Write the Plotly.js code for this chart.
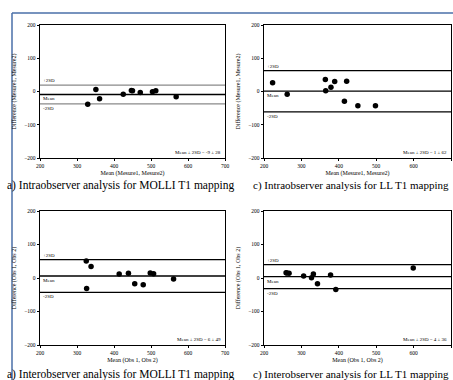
<!DOCTYPE html>
<html><head><meta charset="utf-8">
<script src="https://cdn.plot.ly/plotly-3.0.1.min.js"></script>
<style>html,body{margin:0;padding:0;background:#fff}#c{width:453px;height:380px}</style>
</head><body><div id="c"></div>
<script>
// Panel a) Intraobserver MOLLI
const p1x = [329, 351, 361, 425, 447, 450, 471, 504, 513, 568];
const p1y = [-38, 6, -22, -8, 3, 2, -3, -1, 2, -16];
const p1stats = {mean: -9, sd2: 28};
// Panel c) Intraobserver LL
const p2x = [223, 262, 364, 365, 379, 389, 421, 415, 451, 498];
const p2y = [26, -8, 36, 2, 13, 30, 31, -29, -43, -43];
const p2stats = {mean: 1, sd2: 62};
// Panel a) Interobserver MOLLI
const p3x = [325, 338, 326, 414, 439, 456, 479, 498, 507, 561];
const p3y = [51, 34, -31, 12, 14, -17, -20, 15, 13, -3];
const p3stats = {mean: 6, sd2: 49};
// Panel c) Interobserver LL
const p4x = [259, 261, 267, 306, 327, 332, 343, 378, 392, 599];
const p4y = [16, 15, 14, 6, 1, 12, -17, 9, -34, 30];
const p4stats = {mean: 4, sd2: 36};

const xTitles = ["Mean (Mesure1, Mesure2)", "Mean (Mesure1, Mesure2)", "Mean (Obs 1, Obs 2)", "Mean (Obs 1, Obs 2)"];
const yTitles = ["Difference (Mesure1, Mesure2)", "Difference (Mesure1, Mesure2)", "Difference (Obs 1, Obs 2)", "Difference (Obs 1, Obs 2)"];
const captions = ["a) Intraobserver analysis for MOLLI T1 mapping", "c) Intraobserver analysis for LL T1 mapping",
                  "a) Interobserver analysis for MOLLI T1 mapping", "c) Interobserver analysis for LL T1 mapping"];
const xRange = [200, 700];
const yRange = [-200, 200];
const xTicks = [200, 300, 400, 500, 600, 700];
const yTicks = [-200, -100, 0, 100, 200];

const panels = [
  {x: p1x, y: p1y, s: p1stats, limColor: '#8a8a8a'},
  {x: p2x, y: p2y, s: p2stats, limColor: '#000'},
  {x: p3x, y: p3y, s: p3stats, limColor: '#000'},
  {x: p4x, y: p4y, s: p4stats, limColor: '#000'}
];
const W = 453, H = 380;
// plot boxes in pixels [left, right, top, bottom]
const boxes = [[40, 225, 25, 158], [264, 451, 25, 158], [40, 225, 211, 345], [264, 451, 211, 345]];

const serif = 'Liberation Serif, Times New Roman, serif';
const traces = [], annotations = [], shapes = [];
const layout = {
  width: W, height: H, margin: {l: 0, r: 0, t: 0, b: 0},
  paper_bgcolor: '#fff', plot_bgcolor: '#fff', showlegend: false,
  font: {family: serif, color: '#000'}
};

panels.forEach((p, i) => {
  const n = i + 1;
  const xa = 'x' + (n === 1 ? '' : n), ya = 'y' + (n === 1 ? '' : n);
  const b = boxes[i];
  const axCommon = {showgrid: false, zeroline: false, showline: true, linecolor: '#000', linewidth: 1.3,
    mirror: true, ticks: 'outside', ticklen: 2, tickwidth: 1, tickcolor: '#000',
    tickfont: {family: serif, size: 5.5, color: '#000'}, fixedrange: true};
  layout['xaxis' + (n === 1 ? '' : n)] = Object.assign({}, axCommon, {
    domain: [b[0] / W, b[1] / W], range: xRange, tickvals: xTicks, anchor: ya,
    title: {text: xTitles[i], font: {family: serif, size: 6}, standoff: 3}
  });
  layout['yaxis' + (n === 1 ? '' : n)] = Object.assign({}, axCommon, {
    domain: [1 - b[3] / H, 1 - b[2] / H], range: yRange, tickvals: yTicks, anchor: xa,
    title: {text: yTitles[i], font: {family: serif, size: 6}, standoff: 7}
  });
  const up = p.s.mean + p.s.sd2, lo = p.s.mean - p.s.sd2;
  [[up, p.limColor], [p.s.mean, '#000'], [lo, p.limColor]].forEach(([v, c]) => {
    traces.push({x: xRange, y: [v, v], xaxis: xa, yaxis: ya, mode: 'lines',
      line: {color: c, width: 1.3}, hoverinfo: 'skip'});
  });
  traces.push({x: p.x, y: p.y, xaxis: xa, yaxis: ya, mode: 'markers',
    marker: {color: '#000', size: 5.5}});
  const labFont = {family: serif, size: 5, color: '#000'};
  annotations.push({xref: xa, yref: ya, x: xRange[0], y: up, text: '+2SD', showarrow: false,
    xanchor: 'left', yanchor: 'bottom', font: labFont, xshift: 1});
  annotations.push({xref: xa, yref: ya, x: xRange[0], y: p.s.mean, text: 'Mean', showarrow: false,
    xanchor: 'left', yanchor: 'top', font: labFont, xshift: 1});
  annotations.push({xref: xa, yref: ya, x: xRange[0], y: lo, text: '-2SD', showarrow: false,
    xanchor: 'left', yanchor: 'top', font: labFont, xshift: 1});
  annotations.push({xref: xa, yref: ya, x: xRange[1], y: yRange[0],
    text: 'Mean ± 2SD = ' + p.s.mean + ' ± ' + p.s.sd2, showarrow: false,
    xanchor: 'right', yanchor: 'bottom', font: labFont, xshift: -2, yshift: 1});
  const left = i % 2 === 0;
  const capX = left ? 5 : 251;
  const capY = i < 2 ? 185 : 374;
  annotations.push({xref: 'paper', yref: 'paper', x: capX / W, y: 1 - capY / H, text: captions[i],
    showarrow: false, xanchor: 'left', yanchor: 'middle',
    font: {family: serif, size: left ? 11.5 : 11, color: '#000'}});
});

// blue frame
shapes.push({type: 'line', xref: 'paper', yref: 'paper', x0: 12 / W, x1: 1, y0: 1 - 13 / H, y1: 1 - 13 / H,
  line: {color: '#4a6fa8', width: 1.5}});
shapes.push({type: 'line', xref: 'paper', yref: 'paper', x0: 12 / W, x1: 12 / W, y0: 1 - 13 / H, y1: 0,
  line: {color: '#4a6fa8', width: 1.5}});
layout.annotations = annotations;
layout.shapes = shapes;

Plotly.newPlot('c', traces, layout, {staticPlot: true, displayModeBar: false});
</script>
</body></html>
